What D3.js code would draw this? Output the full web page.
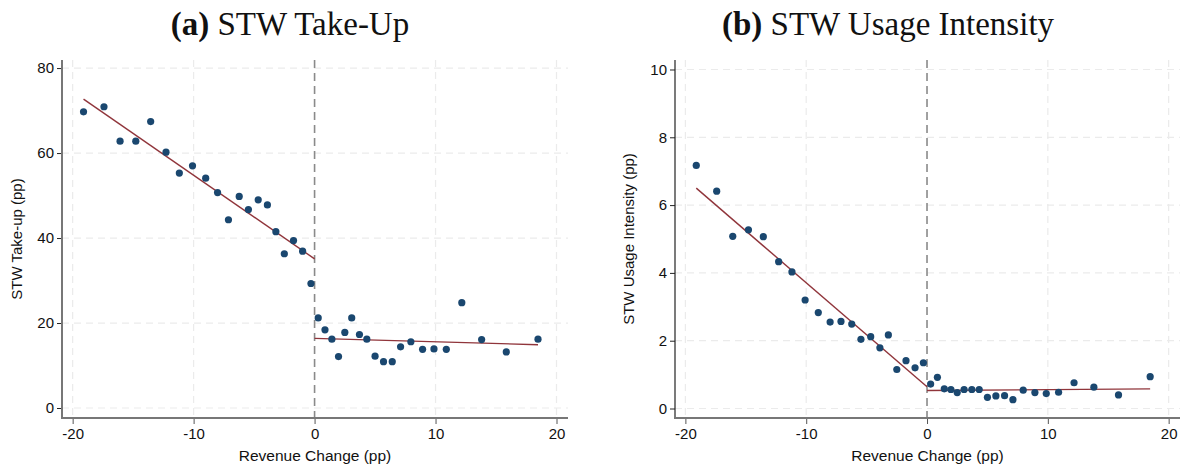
<!DOCTYPE html>
<html><head><meta charset="utf-8">
<script src="https://cdn.jsdelivr.net/npm/d3@7"></script>
<style>
html,body{margin:0;padding:0;background:#fff;}
svg{display:block;}
</style></head>
<body>
<svg id="chart" width="1184" height="468"></svg>
<script>
// Bin midpoints of revenue change (pp)
const binX = [-19.1, -17.41, -16.08, -14.78, -13.55, -12.28, -11.18, -10.09, -9.0, -8.02,
  -7.12, -6.23, -5.47, -4.66, -3.9, -3.2, -2.5, -1.74, -0.99, -0.3,
  0.3, 0.86, 1.43, 1.98, 2.5, 3.07, 3.71, 4.32, 5.0, 5.7,
  6.42, 7.11, 7.96, 8.93, 9.87, 10.89, 12.17, 13.81, 15.85, 18.47];
// Panel (a) STW take-up (pp)
const takeUp = [69.7, 70.9, 62.8, 62.8, 67.4, 60.2, 55.3, 57.0, 54.1, 50.7,
  44.3, 49.8, 46.7, 49.0, 47.8, 41.5, 36.3, 39.4, 36.9, 29.3,
  21.2, 18.4, 16.2, 12.1, 17.8, 21.2, 17.3, 16.2, 12.2, 10.9,
  10.9, 14.4, 15.6, 13.8, 13.9, 13.8, 24.8, 16.1, 13.2, 16.2];
// Panel (b) STW usage intensity (pp)
const intensity = [7.17, 6.41, 5.08, 5.27, 5.07, 4.33, 4.03, 3.2, 2.83, 2.55,
  2.57, 2.49, 2.04, 2.12, 1.79, 2.17, 1.15, 1.41, 1.2, 1.35,
  0.72, 0.92, 0.58, 0.56, 0.47, 0.56, 0.56, 0.56, 0.33, 0.37,
  0.38, 0.26, 0.54, 0.47, 0.44, 0.48, 0.76, 0.63, 0.40, 0.94];
// Linear fits on each side of the threshold: [x0, x1] and [y0, y1]
const fitXLeft = [-19.1, 0];
const fitXRight = [0, 18.47];
const takeUpFitLeft = [72.7, 35.1];
const takeUpFitRight = [16.4, 14.9];
const intensityFitLeft = [6.5, 0.64];
const intensityFitRight = [0.53, 0.58];
// Ticks
const xTicks = [-20, -10, 0, 10, 20];
const takeUpTicks = [0, 20, 40, 60, 80];
const intensityTicks = [0, 2, 4, 6, 8, 10];
const titlesBold = ["(a)", "(b)"];
const titlesText = ["STW Take-Up", "STW Usage Intensity"];
const yTitles = ["STW Take-up (pp)", "STW Usage Intensity (pp)"];
const xTitle = "Revenue Change (pp)";

const svg = d3.select("#chart");
const DOT = "#1a476f", FIT = "#90353b";
const fmt = d => String(d);

const panels = [
  {y: takeUp, fl: takeUpFitLeft, fr: takeUpFitRight, ticks: takeUpTicks,
   xDom: [-20.88, 20.95], xRange: [62, 568], yDom: [-2.35, 81.9],
   titleX: 290, yTitleX: 17, yAxisColor: "#777", yAxisW: 2},
  {y: intensity, fl: intensityFitLeft, fr: intensityFitRight, ticks: intensityTicks,
   xDom: [-20.86, 20.94], xRange: [675, 1180], yDom: [-0.28, 10.28],
   titleX: 888, yTitleX: 629, yAxisColor: "#222", yAxisW: 1.2}
];

panels.forEach((p, i) => {
  const x = d3.scaleLinear().domain(p.xDom).range(p.xRange);
  const y = d3.scaleLinear().domain(p.yDom).range([418, 60]);
  const g = svg.append("g");
  const x0 = p.xRange[0], x1 = p.xRange[1];

  // gridlines
  g.selectAll(".hg").data(p.ticks).join("line")
    .attr("x1", x0).attr("x2", x1)
    .attr("y1", d => y(d)).attr("y2", d => y(d))
    .attr("stroke", "#ebebeb").attr("stroke-width", 1.2).attr("stroke-dasharray", "7,5");
  g.selectAll(".vg").data(xTicks.filter(d => d !== 0)).join("line")
    .attr("x1", d => x(d)).attr("x2", d => x(d))
    .attr("y1", 60).attr("y2", 418)
    .attr("stroke", "#ebebeb").attr("stroke-width", 1.2).attr("stroke-dasharray", "7,5");

  // threshold line
  g.append("line").attr("x1", x(0)).attr("x2", x(0)).attr("y1", 60).attr("y2", 418)
    .attr("stroke", "#8a8a8a").attr("stroke-width", 1.6).attr("stroke-dasharray", "8,5");

  // fit lines
  const line = d3.line().x(d => x(d[0])).y(d => y(d[1]));
  g.append("path").datum(d3.zip(fitXLeft, p.fl)).attr("d", line)
    .attr("fill", "none").attr("stroke", FIT).attr("stroke-width", 1.4);
  g.append("path").datum(d3.zip(fitXRight, p.fr)).attr("d", line)
    .attr("fill", "none").attr("stroke", FIT).attr("stroke-width", 1.4);

  // dots
  g.selectAll(".dot").data(d3.zip(binX, p.y)).join("circle")
    .attr("cx", d => x(d[0])).attr("cy", d => y(d[1])).attr("r", 3.6)
    .attr("fill", DOT);

  // y axis
  const ya = g.append("g").attr("transform", `translate(${x0},0)`)
    .call(d3.axisLeft(y).tickValues(p.ticks).tickSize(5).tickPadding(3).tickFormat(fmt));
  ya.select(".domain").remove();
  ya.selectAll(".tick line").attr("stroke", "#222");
  ya.selectAll("text").attr("font-family", "Liberation Sans, Arial, sans-serif")
    .attr("font-size", 15).attr("fill", "#111");
  g.append("line").attr("x1", x0).attr("x2", x0).attr("y1", 60).attr("y2", 419)
    .attr("stroke", p.yAxisColor).attr("stroke-width", p.yAxisW);

  // x axis
  const xa = g.append("g").attr("transform", "translate(0,418)")
    .call(d3.axisBottom(x).tickValues(xTicks).tickSize(6).tickPadding(4).tickFormat(fmt));
  xa.select(".domain").remove();
  xa.selectAll(".tick line").attr("stroke", "#555");
  xa.selectAll("text").attr("font-family", "Liberation Sans, Arial, sans-serif")
    .attr("font-size", 15).attr("fill", "#111");
  g.append("line").attr("x1", x0 - 1).attr("x2", x1).attr("y1", 418).attr("y2", 418)
    .attr("stroke", "#777").attr("stroke-width", 2);

  // axis titles
  g.append("text").attr("x", (x0 + x1) / 2).attr("y", 461).attr("text-anchor", "middle")
    .attr("font-family", "Liberation Sans, Arial, sans-serif").attr("font-size", 15.5)
    .attr("fill", "#111").text(xTitle);
  g.append("text").attr("transform", `translate(${p.yTitleX + 5},239) rotate(-90)`)
    .attr("text-anchor", "middle")
    .attr("font-family", "Liberation Sans, Arial, sans-serif").attr("font-size", 15)
    .attr("fill", "#111").text(yTitles[i]);

  // panel title
  const t = g.append("text").attr("x", p.titleX).attr("y", 35).attr("text-anchor", "middle")
    .attr("font-family", "Liberation Serif, Times New Roman, serif").attr("font-size", 33)
    .attr("fill", "#111");
  t.append("tspan").attr("font-weight", "bold").text(titlesBold[i]);
  t.append("tspan").text(" " + titlesText[i]);
});
</script>
</body></html>
